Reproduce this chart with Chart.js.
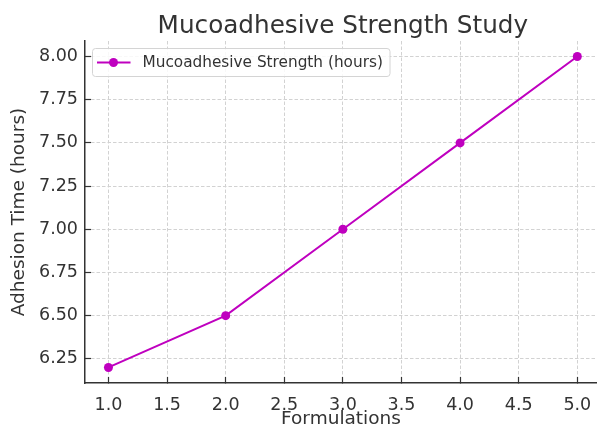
<!DOCTYPE html>
<html>
<head>
<meta charset="utf-8">
<title>Mucoadhesive Strength Study</title>
<script src="https://cdn.jsdelivr.net/npm/chart.js@4.4.0/dist/chart.umd.min.js"></script>
<style>
  html, body { margin: 0; padding: 0; overflow: hidden; background: #fff; }
  canvas { display: block; }
</style>
</head>
<body>
<canvas id="strengthChart" width="597" height="428"></canvas>
<script>
const formulations = [1, 2, 3, 4, 5];
const adhesionHours = [6.2, 6.5, 7.0, 7.5, 8.0];
const xTicks = [1.0, 1.5, 2.0, 2.5, 3.0, 3.5, 4.0, 4.5, 5.0];
const yTicks = [6.25, 6.5, 6.75, 7.0, 7.25, 7.5, 7.75, 8.0];

const lineColor = '#bf00bf';
const textColor = '#333333';
const fontFamily = '"DejaVu Sans", sans-serif';

// title is centred over the full plot width (plot runs a little past the right edge)
const plotTitle = {
    id: 'plotTitle',
    afterDraw(chart) {
        const ctx = chart.ctx;
        const xs = chart.scales.x;
        const centre = xs.getPixelForValue((xs.min + 5.2) / 2);
        ctx.save();
        ctx.font = '24.7px ' + fontFamily;
        ctx.fillStyle = textColor;
        ctx.textAlign = 'center';
        ctx.textBaseline = 'alphabetic';
        ctx.fillText('Mucoadhesive Strength Study', centre, 33);
        ctx.restore();
    }
};

// framed legend inside the plot, top left corner
const boxLegend = {
    id: 'boxLegend',
    afterDatasetsDraw(chart) {
        const ctx = chart.ctx;
        const area = chart.chartArea;
        const ds = chart.data.datasets[0];
        const x = area.left + 7.5, y = area.top + 7.5;
        const w = 297.5, h = 28;
        const midY = y + h / 2;

        ctx.save();
        ctx.beginPath();
        ctx.roundRect(x, y, w, h, 3);
        ctx.fillStyle = 'rgba(255,255,255,0.85)';
        ctx.fill();
        ctx.strokeStyle = '#d4d4d4';
        ctx.lineWidth = 1;
        ctx.stroke();

        ctx.beginPath();
        ctx.moveTo(x + 4.5, midY);
        ctx.lineTo(x + 38, midY);
        ctx.strokeStyle = ds.borderColor;
        ctx.lineWidth = ds.borderWidth;
        ctx.stroke();

        ctx.beginPath();
        ctx.arc(x + 21, midY, ds.pointRadius, 0, Math.PI * 2);
        ctx.fillStyle = ds.borderColor;
        ctx.fill();

        ctx.font = '15.3px ' + fontFamily;
        ctx.fillStyle = textColor;
        ctx.textAlign = 'left';
        ctx.textBaseline = 'middle';
        ctx.fillText(ds.label, x + 50, midY + 0.5);
        ctx.restore();
    }
};

const gridStyle = {
    color: '#d2d2d2',
    lineWidth: 1,
    tickLength: -6,   // negative = ticks point into the plot
    tickColor: '#333333',
    tickWidth: 1.2,
    tickBorderDash: []
};

// fixed axis box sizes, no extra room for overhanging end labels
function fixBox(size) {
    return s => {
        if (s.isHorizontal()) s.height = size; else s.width = size;
        s.paddingLeft = s.paddingRight = s.paddingTop = s.paddingBottom = 0;
    };
}

const ctx = document.getElementById('strengthChart').getContext('2d');
const strengthChart = new Chart(ctx, {
    type: 'line',
    data: {
        datasets: [{
            label: 'Mucoadhesive Strength (hours)',
            data: formulations.map((f, i) => ({ x: f, y: adhesionHours[i] })),
            borderColor: lineColor,
            backgroundColor: lineColor,
            borderWidth: 2,
            pointRadius: 4.5,
            pointBackgroundColor: lineColor,
            pointBorderWidth: 0,
            tension: 0
        }]
    },
    options: {
        responsive: false,
        animation: false,
        layout: { autoPadding: false, padding: { top: 41, right: 0, left: 0, bottom: 0 } },
        plugins: {
            legend: { display: false },
            tooltip: { enabled: false }
        },
        scales: {
            x: {
                type: 'linear',
                min: 0.8,
                max: 5.168,   // plot is cut at the right edge of the picture
                afterBuildTicks: s => { s.ticks = xTicks.map(v => ({ value: v })); },
                afterFit: fixBox(45),
                ticks: {
                    callback: v => v.toFixed(1),
                    color: textColor,
                    font: { family: fontFamily, size: 17.5 },
                    padding: 17.5,
                    maxRotation: 0
                },
                grid: gridStyle,
                border: { color: '#333333', width: 1.5, dash: [3.5, 2] },
                title: {
                    display: true,
                    text: 'Formulations',
                    color: textColor,
                    font: { family: fontFamily, size: 18.5, lineHeight: 1 },
                    padding: { top: 0, bottom: -0.5 }
                }
            },
            y: {
                type: 'linear',
                min: 6.11,
                max: 8.09,
                afterBuildTicks: s => { s.ticks = yTicks.map(v => ({ value: v })); },
                afterFit: fixBox(85),
                ticks: {
                    callback: v => v.toFixed(2),
                    color: textColor,
                    font: { family: fontFamily, size: 17.5 },
                    padding: 13
                },
                grid: gridStyle,
                border: { color: '#333333', width: 1.5, dash: [3.5, 2] },
                title: {
                    display: true,
                    text: 'Adhesion Time (hours)',
                    color: textColor,
                    font: { family: fontFamily, size: 18.5, lineHeight: 1.2 },
                    padding: { top: 8, bottom: 0 }
                }
            }
        }
    },
    plugins: [plotTitle, boxLegend]
});
</script>
</body>
</html>
